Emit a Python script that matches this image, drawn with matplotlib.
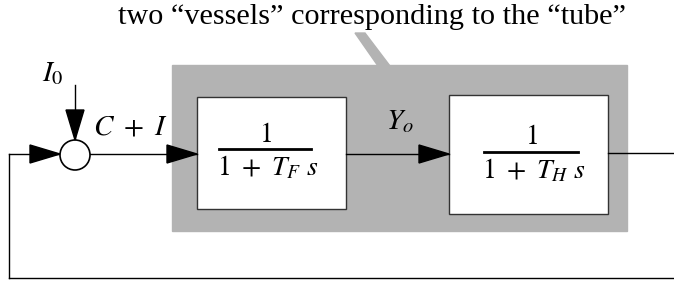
import matplotlib.pyplot as plt
from matplotlib.patches import Rectangle, Circle, Polygon

plt.rcParams['font.family'] = ['Liberation Serif', 'DejaVu Serif']
plt.rcParams['mathtext.fontset'] = 'stix'

# texts of the diagram
titulo = "two \u201cvessels\u201d corresponding to the \u201ctube\u201d"
entradas = [r"$I_0$", r"$C\ +\ I$"]
sinal_meio = r"$Y_o$"
numeradores = [r"$1$", r"$1$"]
denominadores = [r"$1\ +\ T_F\ s$", r"$1\ +\ T_H\ s$"]


def seta(ax, x0, y0, x1, y1, comp=30, larg=9):
    # line with filled triangular head ending at (x1, y1)
    ax.plot([x0, x1], [y0, y1], color="black", lw=1.0)
    dx, dy = x1 - x0, y1 - y0
    n = (dx**2 + dy**2) ** 0.5
    ux, uy = dx / n, dy / n
    bx, by = x1 - ux * comp, y1 - uy * comp
    px, py = -uy * larg, ux * larg
    ax.add_patch(Polygon([(x1, y1), (bx + px, by + py), (bx - px, by - py)],
                         closed=True, color="black", zorder=5))


def fracao(ax, xc, yb, x0, x1, num, den):
    ax.plot([x0, x1], [yb, yb], color="black", lw=2.0, zorder=3)
    ax.text(xc, yb - 14, num, fontsize=20, ha="center", va="center", zorder=3)
    ax.text(x0 - 2, yb + 19, den, fontsize=20, ha="left", va="center", zorder=3)


fig = plt.figure(figsize=(6.74, 2.81), dpi=100)
ax = fig.add_axes([0, 0, 1, 1])
ax.set_xlim(0, 674)
ax.set_ylim(281, 0)
ax.axis("off")

# gray region and callout
cinza = "#b3b3b3"
ax.add_patch(Rectangle((172, 65), 455, 166, color=cinza, zorder=1))
ax.add_patch(Polygon([(355, 33), (365, 33), (390, 66), (378, 66)],
                     closed=True, color=cinza, zorder=1))
ax.text(372, 17, titulo, fontsize=21.8, ha="center", va="center")

# blocks
ax.add_patch(Rectangle((197, 97), 149, 112, facecolor="white",
                       edgecolor="#333333", lw=1.0, zorder=2))
ax.add_patch(Rectangle((449, 95), 159, 119, facecolor="white",
                       edgecolor="#333333", lw=1.0, zorder=2))
fracao(ax, 265, 149, 219, 311, numeradores[0], denominadores[0])
fracao(ax, 531, 152, 484, 578, numeradores[1], denominadores[1])

# summing junction
ax.add_patch(Circle((75, 155), 15, facecolor="white", edgecolor="black",
                    lw=1.2, zorder=4))

# signal path
seta(ax, 90, 154, 197, 154)
seta(ax, 346, 154, 449, 154)
ax.plot([608, 674], [153, 153], color="black", lw=1.0)
ax.plot([9, 674], [278, 278], color="black", lw=1.0)
ax.plot([9, 9], [278, 154], color="black", lw=1.0)
seta(ax, 9, 154, 60, 154)
seta(ax, 75, 85, 75, 140)

ax.text(42, 74, entradas[0], fontsize=21, ha="left", va="center")
ax.text(93, 128, entradas[1], fontsize=21, ha="left", va="center")
ax.text(386, 122, sinal_meio, fontsize=21, ha="left", va="center")

fig.savefig("out.png", dpi=100)
